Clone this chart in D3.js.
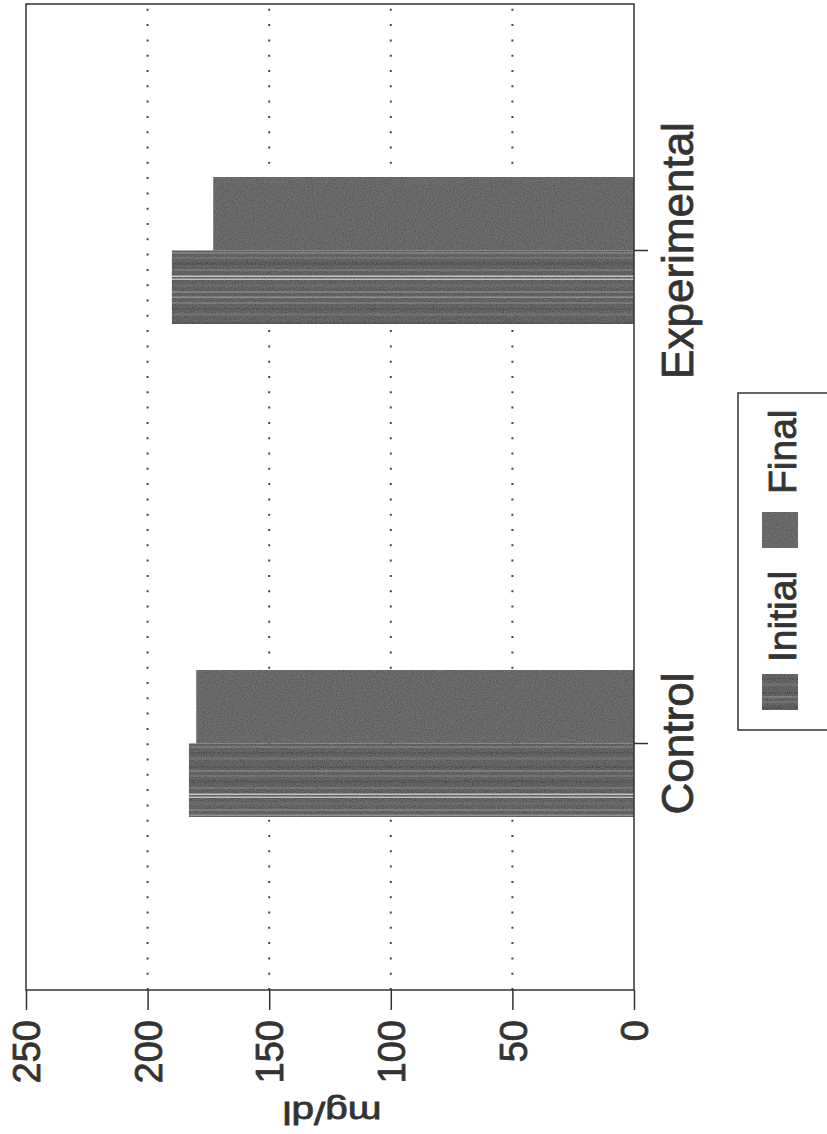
<!DOCTYPE html>
<html>
<head>
<meta charset="utf-8">
<script src="https://cdn.jsdelivr.net/npm/d3@7"></script>
<style>
  html, body { margin: 0; padding: 0; background: #fff; }
  svg { display: block; }
  text { font-family: "Liberation Sans", Arial, sans-serif; fill: #333; stroke: #333; stroke-width: 0.8px; }
</style>
</head>
<body>
<svg id="chart" width="827" height="1134"></svg>
<script>
// ---- data ----
const categories = ["Control", "Experimental"];
const seriesNames = ["Initial", "Final"];
const initialValues = [183, 190];
const finalValues = [180, 173];
const yTickValues = [0, 50, 100, 150, 200, 250];
const yTitle = "mg/dl";
const gridValues = [50, 100, 150, 200];

// ---- layout (chart drawn in its own frame, then rotated -90deg) ----
const W = 1134, H = 827;
const plot = { left: 144, right: 1130, top: 26, bottom: 634 };

const svg = d3.select("#chart");
const defs = svg.append("defs");

// Initial: dark grey with lengthwise light streaks
const pInit = defs.append("pattern").attr("id", "pInit")
  .attr("patternUnits", "userSpaceOnUse").attr("width", 74).attr("height", 10);
pInit.append("rect").attr("width", 74).attr("height", 10).attr("fill", "#4b4b4b");
[[4,3,"#5e5e5e"],[10,2,"#3c3c3c"],[16,2,"#6a6a6a"],[22,1.5,"#8a8a8a"],[27,2,"#6f6f6f"],
 [33,3,"#585858"],[40,1.5,"#bdbdbd"],[43,1.5,"#c8c8c8"],[49,2,"#666"],[55,3,"#3e3e3e"],
 [61,2,"#626262"],[66,2,"#707070"],[70,2,"#3a3a3a"]].forEach(([x,w,c]) =>
  pInit.append("rect").attr("x", x).attr("y", 0).attr("width", w).attr("height", 10).attr("fill", c));

// grain filter
const f = defs.append("filter").attr("id", "grain").attr("x", 0).attr("y", 0).attr("width", 1).attr("height", 1);
f.append("feTurbulence").attr("type", "fractalNoise").attr("baseFrequency", 0.9).attr("numOctaves", 2).attr("seed", 3).attr("result", "n");
f.append("feColorMatrix").attr("in", "n").attr("type", "matrix")
  .attr("values", "0 0 0 0 0.5  0 0 0 0 0.5  0 0 0 0 0.5  0 0 0 0.35 -0.05").attr("result", "nn");
f.append("feComposite").attr("in", "nn").attr("in2", "SourceGraphic").attr("operator", "in").attr("result", "nm");
f.append("feMerge").selectAll("feMergeNode").data(["SourceGraphic", "nm"]).join("feMergeNode").attr("in", d => d);

const g = svg.append("g").attr("transform", `translate(0,${W}) rotate(-90)`);

const y = d3.scaleLinear().domain([0, 250]).range([plot.bottom, plot.top]);
const x = d3.scaleBand().domain(categories).range([plot.left, plot.right]);
const groupW = 147;
const x1 = d3.scaleBand().domain(seriesNames).range([-groupW / 2, groupW / 2]);

const fills = { Initial: "url(#pInit)", Final: "#555555" };

// gridlines
g.append("g").selectAll("line").data(gridValues).join("line")
  .attr("x1", plot.left).attr("x2", plot.right)
  .attr("y1", d => y(d)).attr("y2", d => y(d))
  .attr("stroke", "#444").attr("stroke-width", 2).attr("stroke-dasharray", "2,13.3");

// bars
const rows = categories.map((c, i) => ({ cat: c, Initial: initialValues[i], Final: finalValues[i] }));
const bars = g.append("g");
rows.forEach(r => {
  seriesNames.forEach(s => {
    const cx = x(r.cat) + x.bandwidth() / 2;
    bars.append("rect")
      .attr("x", cx + x1(s)).attr("width", x1.bandwidth())
      .attr("y", y(r[s])).attr("height", y(0) - y(r[s]))
      .attr("fill", fills[s]).attr("filter", "url(#grain)");
  });
});

// frame
g.append("rect").attr("x", plot.left).attr("y", plot.top)
  .attr("width", plot.right - plot.left).attr("height", plot.bottom - plot.top)
  .attr("fill", "none").attr("stroke", "#333").attr("stroke-width", 1.5);

// value axis
const ya = g.append("g").attr("transform", `translate(${plot.left},0)`)
  .call(d3.axisLeft(y).tickValues(yTickValues).tickSize(20).tickPadding(10));
ya.select(".domain").remove();
ya.selectAll("line").attr("stroke", "#333").attr("stroke-width", 1.5);
ya.selectAll("text").attr("font-size", 38).attr("fill", "#333").attr("dy", "0.36em")
  .attr("font-family", "'Liberation Sans', Arial, sans-serif");

// y title
g.append("text").attr("transform", `translate(32,${(plot.top + plot.bottom) / 2 + 2}) rotate(-90)`)
  .attr("text-anchor", "middle").attr("font-size", 32)
  .attr("textLength", 99).attr("lengthAdjust", "spacingAndGlyphs").text(yTitle);

// category axis
const xa = g.append("g").attr("transform", `translate(0,${plot.bottom})`)
  .call(d3.axisBottom(x).tickSize(14).tickPadding(14));
xa.select(".domain").remove();
xa.selectAll("line").attr("stroke", "#333").attr("stroke-width", 1.5);
xa.selectAll("text").attr("font-size", 44).attr("fill", "#333")
  .attr("font-family", "'Liberation Sans', Arial, sans-serif");

// legend
const lg = g.append("g");
lg.append("rect").attr("x", 404).attr("y", 738).attr("width", 337).attr("height", 120)
  .attr("fill", "#fff").attr("stroke", "#333").attr("stroke-width", 1.5);
const legendItems = [
  { name: "Initial", sx: 424, tx: 472 },
  { name: "Final", sx: 586, tx: 640 }
];
legendItems.forEach(it => {
  lg.append("rect").attr("x", it.sx).attr("y", 762).attr("width", 36).attr("height", 36)
    .attr("fill", fills[it.name]).attr("filter", "url(#grain)");
  lg.append("text").attr("x", it.tx).attr("y", 796).attr("font-size", 39).text(it.name);
});
</script>
</body>
</html>
